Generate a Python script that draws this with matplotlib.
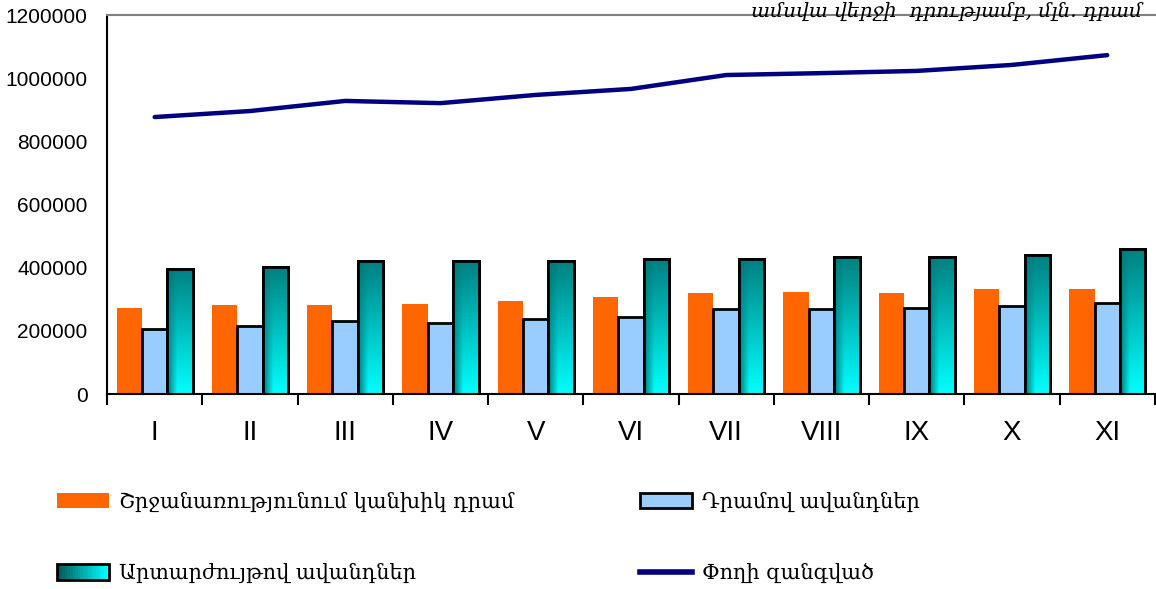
import matplotlib.pyplot as plt
import matplotlib.patheffects as pe
from matplotlib.patches import Rectangle
from matplotlib.lines import Line2D
from matplotlib.legend_handler import HandlerBase
import numpy as np

months = ['I', 'II', 'III', 'IV', 'V', 'VI', 'VII', 'VIII', 'IX', 'X', 'XI']
cash = [272000, 282000, 282000, 285000, 294000, 307000, 320000, 323000, 320000, 332000, 332000]
dram_dep = [206000, 216000, 231000, 225000, 237000, 244000, 269000, 269000, 273000, 280000, 288000]
fx_dep = [396000, 403000, 421000, 421000, 421000, 427000, 427000, 434000, 434000, 440000, 458000]
money = [877000, 896000, 928000, 921000, 947000, 966000, 1010000, 1016000, 1023000, 1042000, 1073000]

lbl_cash = 'Շրջանառությունում կանխիկ դրամ'
lbl_dram = 'Դրամով ավանդներ'
lbl_fx = 'Արտարժույթով ավանդներ'
lbl_money = 'Փողի զանգված'
title = 'ամսվա վերջի  դրությամբ, մլն. դրամ'

serif = ['DejaVu Serif']
sans = ['Liberation Sans', 'DejaVu Sans']

fig = plt.figure(figsize=(11.56, 5.89), dpi=100)
ax = fig.add_axes([0.0926, 0.331, 0.9064, 0.6435])

x = np.arange(len(months))
w = 0.267
shadow = [pe.SimplePatchShadow(offset=(1.5, -1.5), shadow_rgbFace='#808080', alpha=0.8), pe.Normal()]

ax.bar(x - w, cash, w, color='#FF6600', zorder=2)
ax.bar(x, dram_dep, w, color='#99CCFF', edgecolor='black', linewidth=2, zorder=2, path_effects=shadow)
teal_bars = ax.bar(x + w, fx_dep, w, color='#008080', edgecolor='black', linewidth=2, zorder=2, path_effects=shadow)
ax.bar(x + w, fx_dep, w, color='none', edgecolor='black', linewidth=2, zorder=3)

# gradient fill for the foreign-currency bars
gy, gx = np.mgrid[0:1:100j, 0:1:40j]
top = np.array([0, 128, 128]) / 255
bot = np.array([0, 255, 255]) / 255
dark = np.array([0, 90, 90]) / 255
v = gy[..., None]
h = gx[..., None]
col = top * (1 - v) + bot * v
edge = np.clip(1 - h / 0.4, 0, 1) * (0.3 + 0.7 * v) * 0.85
grad = col * (1 - edge) + dark * edge
for b in teal_bars:
    x0, y0 = b.get_x(), b.get_y()
    im = ax.imshow(grad, extent=[x0, x0 + b.get_width(), y0, y0 + b.get_height()],
                   aspect='auto', zorder=2.5, origin='upper')
    im.set_clip_path(b)

ax.plot(x, money, color='#000080', linewidth=3.2, zorder=4, solid_capstyle='round')

ax.set_xlim(-0.5, len(months) - 0.5)
ax.set_ylim(0, 1200000)
ax.set_yticks(np.arange(0, 1200001, 200000))
ax.set_yticklabels([str(v) for v in range(0, 1200001, 200000)], family=sans, fontsize=15)
ax.tick_params(axis='y', length=0, pad=14)
ax.set_xticks(x)
ax.set_xticklabels(months, family=sans, fontsize=20)
ax.tick_params(axis='x', which='major', length=0, pad=19)
ax.set_xticks(np.arange(-0.5, len(months), 1), minor=True)
ax.tick_params(axis='x', which='minor', length=8, width=1.5, direction='out')

for s in ['left', 'bottom']:
    ax.spines[s].set_linewidth(1.5)
ax.spines['top'].set_color('#808080')
ax.spines['top'].set_linewidth(1.5)
ax.spines['right'].set_visible(False)

fig.text(0.988, 0.972, title, family=serif, style='italic', fontsize=14.5, ha='right', va='baseline')


class GradHandler(HandlerBase):
    def create_artists(self, legend, orig, xd, yd, width, height, fontsize, trans):
        arts = []
        n = 20
        for i in range(n):
            t = i / (n - 1)
            c = dark * (1 - t) + bot * t
            arts.append(Rectangle((-xd + width * i / n, -yd), width / n + 0.3, height,
                                  facecolor=c, edgecolor='none', transform=trans))
        arts.append(Rectangle((-xd, -yd), width, height, facecolor='none',
                              edgecolor='black', linewidth=2, transform=trans))
        return arts


h_cash = Rectangle((0, 0), 1, 1, facecolor='#FF6600')
h_dram = Rectangle((0, 0), 1, 1, facecolor='#99CCFF', edgecolor='black', linewidth=2)
h_fx = Rectangle((0, 0), 1, 1)
h_money = Line2D([], [], color='#000080', linewidth=4)

fig.legend([h_cash, h_fx, h_dram, h_money], [lbl_cash, lbl_fx, lbl_dram, lbl_money],
           handler_map={h_fx: GradHandler()}, ncol=2, loc='upper left',
           bbox_to_anchor=(0.033, 0.197), frameon=False,
           prop={'family': serif, 'size': 15}, handlelength=2.5, handleheight=0.8,
           handletextpad=0.5, labelspacing=2.45, columnspacing=6.0)

fig.savefig('out.png', dpi=100)
